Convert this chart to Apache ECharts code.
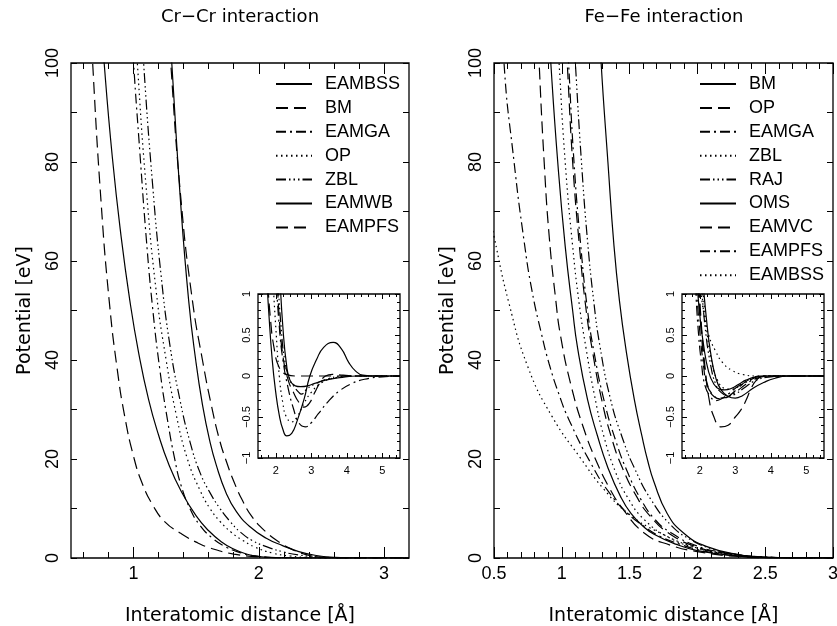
<!DOCTYPE html>
<html><head><meta charset="utf-8">
<script src="https://cdn.jsdelivr.net/npm/echarts@6/dist/echarts.min.js"></script>
<style>html,body{margin:0;padding:0;background:#fff}#c{width:837px;height:626px}</style>
</head><body><div id="c"></div><script>
// ---------- tick values ----------
const crXLabels = [1, 2, 3];
const crXMinor = [0.6, 0.8, 1.2, 1.4, 1.6, 1.8, 2.2, 2.4, 2.6, 2.8];
const feXLabels = [0.5, 1, 1.5, 2, 2.5, 3];
const feXMinor = [0.6,0.7,0.8,0.9,1.1,1.2,1.3,1.4,1.6,1.7,1.8,1.9,2.1,2.2,2.3,2.4,2.6,2.7,2.8,2.9];
const mainYLabels = [0, 20, 40, 60, 80, 100];
const mainYTicks = [0, 10, 20, 30, 40, 50, 60, 70, 80, 90, 100];
const insetXLabels = [2, 3, 4, 5];
const insetXMinor = [1.6,1.8,2.2,2.4,2.6,2.8,3.2,3.4,3.6,3.8,4.2,4.4,4.6,4.8,5.2,5.4];
const insetYLabels = [-1, -0.5, 0, 0.5, 1];
const insetYMinor = [-0.9,-0.8,-0.7,-0.6,-0.4,-0.3,-0.2,-0.1,0.1,0.2,0.3,0.4,0.6,0.7,0.8,0.9];

// ---------- Cr-Cr main panel (x in Å, y in eV) ----------
const crEAMBSS = [[0.74,110],[0.765,100],[0.83,81],[0.9,65],[0.97,52],[1.04,41.5],[1.12,32],[1.2,24.8],[1.28,19],[1.38,13.5],[1.5,8.5],[1.6,5.5],[1.7,3.3],[1.8,1.8],[1.9,0.8],[2.0,0.3],[2.1,0.1],[2.3,0],[3.2,0]];
const crBM = [[0.64,118],[0.673,100],[0.74,72],[0.805,52],[0.87,38],[0.93,28.5],[1.0,20.5],[1.07,15],[1.155,10.6],[1.25,7.3],[1.376,5],[1.5,3.2],[1.615,2.0],[1.8,0.8],[2.0,0.25],[2.2,0.05],[2.5,0],[3.2,0]];
const crEAMGA = [[0.97,114],[1.0,100],[1.05,82],[1.10,65],[1.15,51],[1.21,38],[1.27,28],[1.33,19.8],[1.38,14.6],[1.45,10],[1.53,6.6],[1.63,4.0],[1.74,2.2],[1.85,1.1],[1.95,0.5],[2.1,0.1],[2.3,0],[3.2,0]];
const crOP = [[1.0,114],[1.03,100],[1.10,75],[1.18,54],[1.26,40],[1.34,29],[1.43,20],[1.53,13.7],[1.61,10],[1.69,7.4],[1.78,5.2],[1.87,3.6],[1.97,2.2],[2.11,1.0],[2.25,0.4],[2.4,0.1],[2.6,0],[3.2,0]];
const crZBL = [[1.05,114],[1.08,100],[1.15,76],[1.22,57],[1.29,43],[1.37,32],[1.45,23.5],[1.53,17.3],[1.61,13.2],[1.69,10.0],[1.77,7.4],[1.85,5.3],[1.95,3.5],[2.06,2.3],[2.2,1.2],[2.32,0.6],[2.5,0.2],[2.7,0],[3.2,0]];
const crEAMWB = [[1.28,110],[1.305,100],[1.375,72],[1.44,52],[1.496,40],[1.55,31],[1.607,23.8],[1.66,18.8],[1.74,13.1],[1.82,9.4],[1.93,6.3],[2.06,4.0],[2.19,2.5],[2.32,1.3],[2.46,0.5],[2.6,0.15],[2.8,0],[3.2,0]];
const crEAMPFS = [[1.28,110],[1.297,100],[1.38,72],[1.47,52],[1.55,40],[1.62,31],[1.687,23.8],[1.74,19.6],[1.80,15.5],[1.87,11.6],[1.95,8.2],[2.06,5.2],[2.17,3.1],[2.27,1.7],[2.36,0.8],[2.46,0.25],[2.6,0],[3.2,0]];

// ---------- Cr-Cr inset ----------
const crInEAMBSS = [[1.76,1.1],[1.8,0.8],[1.9,0.2],[2.0,-0.2],[2.1,-0.48],[2.2,-0.65],[2.31,-0.73],[2.45,-0.7],[2.6,-0.55],[2.8,-0.28],[2.96,0],[3.15,0.2],[3.35,0.35],[3.62,0.41],[3.85,0.33],[4.05,0.17],[4.25,0.06],[4.45,0.01],[4.7,0],[5.5,0]];
const crInBM = [[1.78,1.1],[1.85,0.7],[1.95,0.35],[2.1,0.1],[2.3,0.02],[2.6,0],[5.5,0]];
const crInEAMGA = [[2.02,1.1],[2.1,0.6],[2.2,0.2],[2.35,-0.15],[2.5,-0.4],[2.65,-0.57],[2.83,-0.62],[3.0,-0.57],[3.2,-0.46],[3.5,-0.3],[3.8,-0.18],[4.1,-0.1],[4.5,-0.04],[5.0,-0.01],[5.5,0]];
const crInOP = [[1.93,1.1],[2.0,0.6],[2.1,0.0],[2.2,-0.33],[2.3,-0.5],[2.45,-0.56],[2.6,-0.5],[2.8,-0.33],[3.0,-0.2],[3.3,-0.08],[3.7,-0.02],[4.2,0],[5.5,0]];
const crInZBL = [[2.07,1.1],[2.15,0.6],[2.25,0.2],[2.4,-0.05],[2.55,-0.15],[2.65,-0.2],[2.72,-0.22],[2.9,-0.15],[3.1,-0.1],[3.5,-0.03],[4,0],[5.5,0]];
const crInEAMWB = [[2.13,1.1],[2.2,0.6],[2.3,0.15],[2.4,-0.05],[2.55,-0.12],[2.7,-0.13],[2.9,-0.12],[3.1,-0.09],[3.4,-0.05],[3.8,-0.02],[4.3,0],[5.5,0]];
const crInEAMPFS = [[2.05,1.1],[2.1,0.7],[2.2,0.25],[2.35,-0.05],[2.5,-0.2],[2.65,-0.32],[2.8,-0.38],[2.95,-0.33],[3.1,-0.2],[3.25,-0.08],[3.4,0],[3.6,0.02],[3.9,0.01],[4.3,0],[5.5,0]];

// ---------- Fe-Fe main panel ----------
const feBM = [[0.90,110],[0.919,100],[0.97,80],[1.025,63],[1.08,50],[1.116,42.5],[1.19,32],[1.264,24.6],[1.338,18.4],[1.437,12.2],[1.51,9.0],[1.6,6.4],[1.68,4.8],[1.84,2.8],[2.0,1.5],[2.3,0.4],[2.6,0],[3,0]];
const feOP = [[0.82,110],[0.833,100],[0.87,80],[0.907,65],[0.956,52],[0.99,45],[1.067,35],[1.166,25.8],[1.264,19.0],[1.35,14.2],[1.437,10.4],[1.61,5],[1.8,2.6],[2.0,1.3],[2.3,0.3],[2.6,0],[3,0]];
const feEAMGA = [[1.03,110],[1.05,100],[1.09,80],[1.14,63],[1.19,50],[1.235,42],[1.31,32],[1.40,23.5],[1.49,17],[1.58,12],[1.68,8],[1.8,5.2],[2.0,2.4],[2.2,1.1],[2.5,0.2],[2.8,0],[3,0]];
const feZBL = [[0.96,110],[0.98,100],[1.025,80],[1.08,63],[1.13,51],[1.178,42.5],[1.24,33],[1.31,24.6],[1.40,17.1],[1.486,12.2],[1.61,7.7],[1.8,4],[2.0,2],[2.2,0.9],[2.5,0.2],[2.8,0],[3,0]];
const feRAJ = [[1.08,110],[1.10,100],[1.145,80],[1.19,64],[1.235,52],[1.28,43],[1.36,32],[1.45,24],[1.535,18.2],[1.66,11.7],[1.81,6.5],[1.95,3.7],[2.1,1.9],[2.3,0.6],[2.6,0.1],[2.9,0],[3,0]];
const feOMS = [[1.27,112],[1.29,100],[1.34,80],[1.385,63],[1.425,52],[1.474,42],[1.535,32],[1.592,24.5],[1.635,19.5],[1.678,15.5],[1.777,9.0],[1.9,5],[2.07,2.3],[2.32,0.6],[2.5,0.15],[2.7,0],[3,0]];
const feEAMVC = [[1.02,110],[1.04,100],[1.08,80],[1.13,63],[1.18,50],[1.225,42],[1.29,32.5],[1.37,24],[1.45,18],[1.55,12.5],[1.65,8.5],[1.8,4.8],[2.0,2.2],[2.2,1],[2.5,0.2],[2.8,0],[3,0]];
const feEAMPFS = [[0.56,112],[0.574,100],[0.648,80],[0.722,64],[0.78,54],[0.85,45.3],[0.907,39.2],[0.98,33],[1.055,27.8],[1.215,19.1],[1.35,13.2],[1.486,9.0],[1.6,6.5],[1.73,4.3],[1.87,2.8],[2.0,1.7],[2.15,0.9],[2.3,0.4],[2.5,0.1],[2.7,0],[3,0]];
const feEAMBSS = [[0.45,72],[0.5,65],[0.61,51.5],[0.75,38.6],[0.93,28.5],[1.14,20.1],[1.31,13.9],[1.49,9.0],[1.73,5.0],[2.0,2.0],[2.2,0.9],[2.4,0.3],[2.6,0.05],[2.9,0],[3,0]];

// ---------- Fe-Fe inset ----------
const feInBM = [[1.93,1.1],[2.0,0.75],[2.1,0.4],[2.25,0.05],[2.4,-0.1],[2.55,-0.16],[2.7,-0.17],[2.9,-0.15],[3.1,-0.1],[3.3,-0.05],[3.6,-0.01],[4.0,0],[5.5,0]];
const feInOP = [[1.98,1.1],[2.05,0.6],[2.15,0.1],[2.25,-0.25],[2.4,-0.5],[2.6,-0.62],[2.8,-0.6],[3.0,-0.5],[3.15,-0.42],[3.3,-0.3],[3.45,-0.15],[3.6,-0.05],[3.8,0],[5.5,0]];
const feInEAMGA = [[1.9,1.1],[2.0,0.55],[2.1,0.15],[2.2,-0.1],[2.35,-0.22],[2.55,-0.27],[2.75,-0.26],[3.0,-0.2],[3.3,-0.1],[3.6,-0.03],[4.0,0],[5.5,0]];
const feInZBL = [[2.02,1.1],[2.1,0.8],[2.25,0.5],[2.45,0.3],[2.65,0.16],[2.9,0.07],[3.2,0.02],[3.6,0],[5.5,0]];
const feInRAJ = [[2.05,1.1],[2.15,0.6],[2.3,0.15],[2.45,-0.1],[2.6,-0.2],[2.8,-0.24],[3.0,-0.22],[3.3,-0.13],[3.6,-0.05],[4.0,-0.01],[4.4,0],[5.5,0]];
const feInOMS = [[2.1,1.1],[2.2,0.65],[2.3,0.3],[2.45,-0.02],[2.6,-0.17],[2.8,-0.25],[3.0,-0.27],[3.2,-0.24],[3.5,-0.15],[3.8,-0.08],[4.1,-0.03],[4.5,0],[5.5,0]];
const feInEAMVC = [[1.95,1.1],[2.05,0.5],[2.15,0.05],[2.25,-0.15],[2.4,-0.25],[2.6,-0.28],[2.8,-0.25],[3.0,-0.18],[3.2,-0.1],[3.45,-0.03],[3.7,0],[5.5,0]];
const feInEAMPFS = [[1.88,1.1],[1.95,0.6],[2.05,0.15],[2.15,-0.12],[2.3,-0.25],[2.45,-0.3],[2.6,-0.28],[2.8,-0.22],[3.1,-0.12],[3.4,-0.05],[3.8,0],[5.5,0]];
const feInEAMBSS = [[2.08,1.1],[2.2,0.55],[2.35,0.15],[2.5,-0.05],[2.7,-0.15],[2.9,-0.16],[3.2,-0.1],[3.5,-0.04],[3.9,0],[5.5,0]];

// ---------- styles ----------
const DASH = {
  solid: 'solid',
  dashed: [12, 6],
  dashdot: [10, 4, 2, 4],
  dotted: [1.5, 3.5],
  dash3dot: [10, 3, 1.5, 3, 1.5, 3, 1.5, 3]
};
const NUM_FONT = 'Liberation Sans';
const TXT_FONT = 'DejaVu Sans';
const TICK = {color: '#000', width: 1};
const fmt = v => String(v).replace('-', '\u2212');

const grids = [], xAxes = [], yAxes = [], series = [];

function addFrame(c) {
  grids.push({left: c.l, top: c.t, width: c.w, height: c.h, show: true, borderColor: '#000',
    borderWidth: 1.3, backgroundColor: c.bg || 'transparent', z: c.z || 0,
    containLabel: false, outerBoundsMode: 'none'});
  const gi = grids.length - 1;
  const xi = xAxes.length, yi = yAxes.length;
  const base = {gridIndex: gi, type: 'value', splitLine: {show: false},
    axisLine: {show: false, onZero: false}, z: c.az || 0};
  const lab = (vals, margin, rot) => ({show: true, customValues: vals, margin: margin, rotate: rot || 0,
    fontSize: c.fs, fontFamily: NUM_FONT, color: '#000', formatter: fmt});
  const tick = (vals, len) => ({show: true, inside: true, length: len, lineStyle: TICK, customValues: vals});
  const xb = Object.assign({}, base, {min: c.xmin, max: c.xmax});
  xAxes.push(Object.assign({}, xb, {position: 'bottom', axisTick: tick(c.xMaj, c.xMajLen), axisLabel: lab(c.xLab, c.xm),
    name: c.xName || '', nameLocation: 'middle', nameGap: c.xNameGap || 0,
    nameTextStyle: {fontSize: 19, fontFamily: TXT_FONT, color: '#000'}}));
  xAxes.push(Object.assign({}, xb, {position: 'bottom', axisTick: tick(c.xMin, c.xMinLen), axisLabel: {show: false}}));
  xAxes.push(Object.assign({}, xb, {position: 'top', axisTick: tick(c.xMaj, c.xMajLen), axisLabel: {show: false}}));
  xAxes.push(Object.assign({}, xb, {position: 'top', axisTick: tick(c.xMin, c.xMinLen), axisLabel: {show: false}}));
  const yb = Object.assign({}, base, {min: c.ymin, max: c.ymax});
  yAxes.push(Object.assign({}, yb, {position: 'left', axisTick: tick(c.yMaj, c.yMajLen), axisLabel: lab(c.yLab, c.ym, 90),
    name: c.yName || '', nameLocation: 'middle', nameGap: c.yNameGap || 0, nameRotate: 90,
    nameTextStyle: {fontSize: 19, fontFamily: TXT_FONT, color: '#000'}}));
  yAxes.push(Object.assign({}, yb, {position: 'left', axisTick: tick(c.yMin, c.yMinLen), axisLabel: {show: false}}));
  yAxes.push(Object.assign({}, yb, {position: 'right', axisTick: tick(c.yMaj, c.yMajLen), axisLabel: {show: false}}));
  yAxes.push(Object.assign({}, yb, {position: 'right', axisTick: tick(c.yMin, c.yMinLen), axisLabel: {show: false}}));
  return {xi, yi};
}

function addLine(name, data, dash, ax, z) {
  series.push({type: 'line', name: name, data: data, xAxisIndex: ax.xi, yAxisIndex: ax.yi,
    symbol: 'none', showSymbol: false, smooth: 0.5, clip: true, z: z,
    lineStyle: {color: '#000', width: 1.2, type: DASH[dash]}, silent: true});
}

// frames
const crMain = addFrame({l: 71, t: 63, w: 338, h: 495, xmin: 0.5, xmax: 3.2, ymin: 0, ymax: 100,
  xLab: crXLabels, xMaj: crXLabels, xMajLen: 11, xMin: crXMinor, xMinLen: 6, xm: 7,
  yLab: mainYLabels, yMaj: mainYTicks, yMajLen: 6, yMin: [], yMinLen: 0, ym: 9, fs: 18,
  xName: 'Interatomic distance [\u00C5]', xNameGap: 49, yName: 'Potential [eV]', yNameGap: 36});
const feMain = addFrame({l: 494, t: 63, w: 339, h: 495, xmin: 0.5, xmax: 3, ymin: 0, ymax: 100,
  xLab: feXLabels, xMaj: feXLabels, xMajLen: 11, xMin: feXMinor, xMinLen: 6, xm: 7,
  yLab: mainYLabels, yMaj: mainYTicks, yMajLen: 6, yMin: [], yMinLen: 0, ym: 9, fs: 18,
  xName: 'Interatomic distance [\u00C5]', xNameGap: 49, yName: 'Potential [eV]', yNameGap: 36});
const crIn = addFrame({l: 258, t: 294, w: 142, h: 164, xmin: 1.5, xmax: 5.5, ymin: -1, ymax: 1,
  xLab: insetXLabels, xMaj: insetXLabels, xMajLen: 5, xMin: insetXMinor, xMinLen: 3, xm: 7,
  yLab: insetYLabels, yMaj: insetYLabels, yMajLen: 5, yMin: insetYMinor, yMinLen: 3, ym: 6, fs: 11,
  bg: '#fff', z: 3, az: 5});
const feIn = addFrame({l: 682, t: 294, w: 142, h: 164, xmin: 1.5, xmax: 5.5, ymin: -1, ymax: 1,
  xLab: insetXLabels, xMaj: insetXLabels, xMajLen: 5, xMin: insetXMinor, xMinLen: 3, xm: 7,
  yLab: insetYLabels, yMaj: insetYLabels, yMajLen: 5, yMin: insetYMinor, yMinLen: 3, ym: 6, fs: 11,
  bg: '#fff', z: 3, az: 5});

const crSet = [
  ['EAMBSS', crEAMBSS, crInEAMBSS, 'solid'],
  ['BM', crBM, crInBM, 'dashed'],
  ['EAMGA', crEAMGA, crInEAMGA, 'dashdot'],
  ['OP', crOP, crInOP, 'dotted'],
  ['ZBL', crZBL, crInZBL, 'dash3dot'],
  ['EAMWB', crEAMWB, crInEAMWB, 'solid'],
  ['EAMPFS', crEAMPFS, crInEAMPFS, 'dashed']
];
const feSet = [
  ['BM', feBM, feInBM, 'solid'],
  ['OP', feOP, feInOP, 'dashed'],
  ['EAMGA', feEAMGA, feInEAMGA, 'dashdot'],
  ['ZBL', feZBL, feInZBL, 'dotted'],
  ['RAJ', feRAJ, feInRAJ, 'dash3dot'],
  ['OMS', feOMS, feInOMS, 'solid'],
  ['EAMVC', feEAMVC, feInEAMVC, 'dashed'],
  ['EAMPFS', feEAMPFS, feInEAMPFS, 'dashdot'],
  ['EAMBSS', feEAMBSS, feInEAMBSS, 'dotted']
];
crSet.forEach(s => addLine('Cr:' + s[0], s[1], s[3], crMain, 2));
feSet.forEach(s => addLine('Fe:' + s[0], s[1], s[3], feMain, 2));
crSet.forEach(s => addLine('Cr:' + s[0], s[2], s[3], crIn, 4));
feSet.forEach(s => addLine('Fe:' + s[0], s[2], s[3], feIn, 4));

const legendBase = {orient: 'vertical', itemWidth: 36, itemHeight: 14, itemGap: 5.9,
  selectedMode: false, formatter: n => n.split(':')[1],
  itemStyle: {opacity: 0, color: 'transparent', borderWidth: 0},
  textStyle: {fontSize: 18, fontFamily: NUM_FONT, color: '#000', padding: [0, 0, 0, 8]}};

const option = {
  animation: false,
  backgroundColor: '#fff',
  grid: grids, xAxis: xAxes, yAxis: yAxes, series: series,
  legend: [
    Object.assign({}, legendBase, {left: 270, top: 70, data: crSet.map(s => 'Cr:' + s[0])}),
    Object.assign({}, legendBase, {left: 694, top: 70, data: feSet.map(s => 'Fe:' + s[0])})
  ],
  graphic: [
    {type: 'text', x: 240, y: 17, style: {text: 'Cr\u2212Cr interaction', fontSize: 18, fontFamily: TXT_FONT,
      fill: '#000', align: 'center', verticalAlign: 'middle'}},
    {type: 'text', x: 664, y: 17, style: {text: 'Fe\u2212Fe interaction', fontSize: 18, fontFamily: TXT_FONT,
      fill: '#000', align: 'center', verticalAlign: 'middle'}}
  ]
};
const chart = echarts.init(document.getElementById('c'));
chart.setOption(option);
</script></body></html>
